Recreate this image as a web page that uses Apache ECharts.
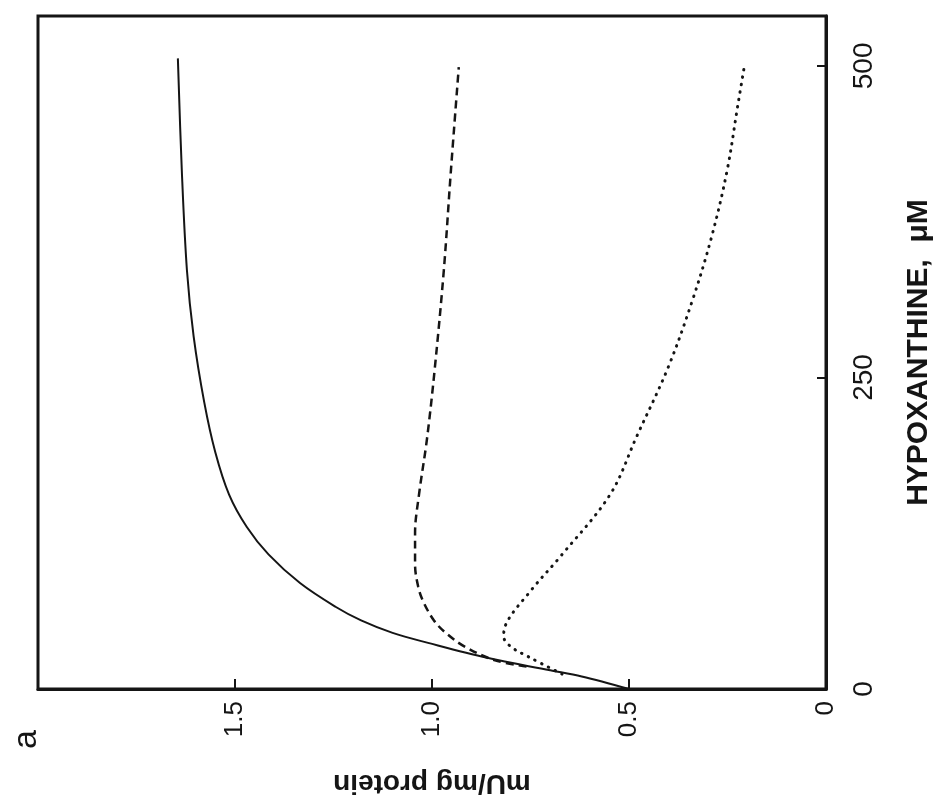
<!DOCTYPE html>
<html>
<head>
<meta charset="utf-8">
<title>Hypoxanthine</title>
<script src="https://cdn.jsdelivr.net/npm/echarts@6/dist/echarts.min.js"></script>
<style>
  html, body { margin: 0; padding: 0; background: #fff; }
  #chart { width: 942px; height: 802px; }
</style>
</head>
<body>
<div id="chart"></div>
<script>
// hypoxanthine (uM) and activity (mU/mg protein)
const solidHx = [0, 10, 15, 25, 37, 45, 55, 66, 85, 108, 130, 156, 190, 230, 283, 336, 416, 506];
const solidMU = [0.5, 0.62, 0.7, 0.86, 1.01, 1.1, 1.18, 1.245, 1.335, 1.415, 1.47, 1.515, 1.55, 1.578, 1.605, 1.622, 1.635, 1.645];

const dashHx = [18, 23, 34, 45, 55, 70, 82, 100, 125, 156, 200, 257, 336, 416, 499];
const dashMU = [0.76, 0.84, 0.917, 0.965, 0.995, 1.022, 1.035, 1.043, 1.043, 1.033, 1.013, 0.993, 0.97, 0.952, 0.932];

const dotHx = [12, 26, 34, 42, 50, 79, 106, 156, 203, 257, 309, 362, 416, 468, 502];
const dotMU = [0.67, 0.756, 0.8, 0.818, 0.815, 0.749, 0.675, 0.548, 0.48, 0.402, 0.342, 0.291, 0.251, 0.224, 0.206];

const hxTicks = [0, 250, 500];

function pairs(mu, hx) {
  return mu.map(function (v, i) { return [v, hx[i]]; });
}

const ink = "#151515";
const chart = echarts.init(document.getElementById("chart"));
chart.setOption({
  backgroundColor: "#fff",
  animation: false,
  grid: {
    left: 38,
    right: 111,
    top: 16,
    bottom: 110,
    show: true,
    borderColor: ink,
    borderWidth: 3
  },
  xAxis: {
    type: "value",
    inverse: true,
    position: "bottom",
    min: 0,
    max: 2,
    interval: 0.5,
    splitLine: { show: false },
    axisLine: { lineStyle: { color: ink, width: 3 } },
    axisTick: { inside: true, length: 10, lineStyle: { color: ink, width: 2 } },
    axisLabel: {
      rotate: 90,
      margin: 12,
      showMaxLabel: false,
      color: ink,
      fontFamily: "Liberation Sans",
      fontSize: 26,
      formatter: function (v) { return v === 0 ? "0" : v.toFixed(1); }
    },
    name: "mU/mg protein",
    nameLocation: "middle",
    nameRotate: 180,
    nameGap: 80,
    nameTextStyle: { color: ink, fontFamily: "Liberation Sans", fontSize: 28, fontWeight: "bold" }
  },
  yAxis: {
    type: "value",
    position: "right",
    min: 0,
    max: 540,
    interval: 250,
    splitLine: { show: false },
    axisLine: { lineStyle: { color: ink, width: 3 } },
    axisTick: { inside: true, length: 9, lineStyle: { color: ink, width: 2 } },
    axisLabel: {
      rotate: 90,
      margin: 24,
      color: ink,
      fontFamily: "Liberation Sans",
      fontSize: 28,
      formatter: function (v) { return hxTicks.indexOf(v) >= 0 ? String(v) : ""; }
    },
    name: "HYPOXANTHINE,  \u03bcM",
    nameLocation: "middle",
    nameRotate: 90,
    nameGap: 78,
    nameTextStyle: { color: ink, fontFamily: "Liberation Sans", fontSize: 30, fontWeight: "bold" }
  },
  graphic: [{
    type: "text",
    left: 10,
    top: 730,
    rotation: Math.PI / 2,
    style: { text: "a", fill: ink, font: "34px 'Liberation Sans'" }
  }],
  series: [
    {
      type: "line",
      data: pairs(solidMU, solidHx),
      smooth: 0.35,
      symbol: "none",
      lineStyle: { color: ink, width: 2 }
    },
    {
      type: "line",
      data: pairs(dashMU, dashHx),
      smooth: 0.35,
      symbol: "none",
      lineStyle: { color: ink, width: 2.5, type: [8, 5] }
    },
    {
      type: "line",
      data: pairs(dotMU, dotHx),
      smooth: 0.35,
      symbol: "none",
      lineStyle: { color: ink, width: 3, type: [0.5, 7], cap: "round" }
    }
  ]
});
</script>
</body>
</html>
